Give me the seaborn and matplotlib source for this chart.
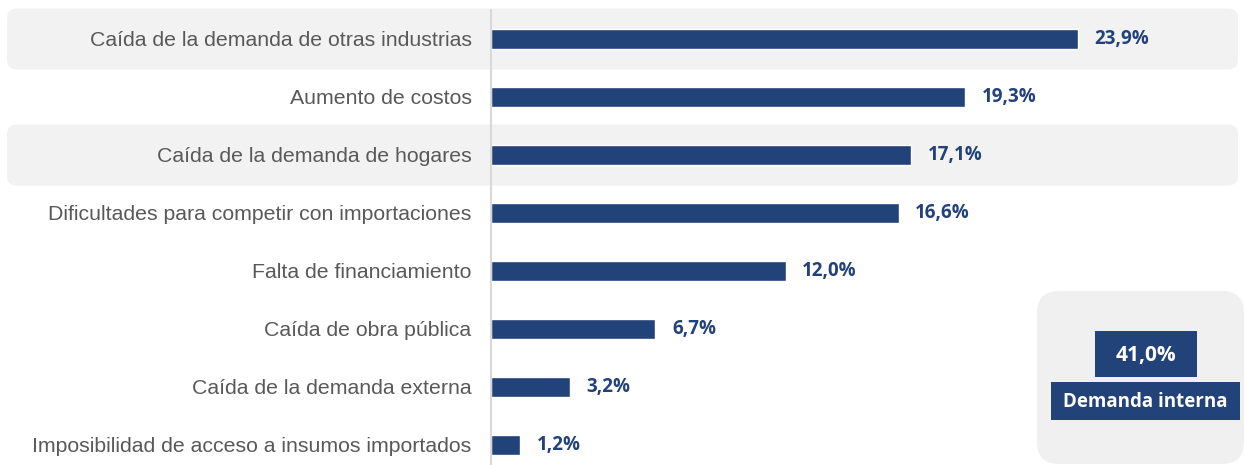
import matplotlib
matplotlib.use("Agg")
import matplotlib.pyplot as plt
import seaborn as sns
import pandas as pd
from matplotlib.patches import FancyBboxPatch, Rectangle

# data
categories = [
    "Caída de la demanda de otras industrias",
    "Aumento de costos",
    "Caída de la demanda de hogares",
    "Dificultades para competir con importaciones",
    "Falta de financiamiento",
    "Caída de obra pública",
    "Caída de la demanda externa",
    "Imposibilidad de acceso a insumos importados",
]
values = [23.9, 19.3, 17.1, 16.6, 12.0, 6.7, 3.2, 1.2]
highlight = [0, 2]  # rows that make up "Demanda interna"

NAVY = "#22427A"
GRAY_TXT = "#595959"
BAND = "#F2F2F2"

sns.set_theme(style="white")

W, H = 1246, 465
fig = plt.figure(figsize=(W / 100, H / 100), dpi=100)

# background layer in pixel units for rounded bands / side box
bg = fig.add_axes([0, 0, 1, 1], zorder=0)
bg.set_xlim(0, W)
bg.set_ylim(H, 0)
bg.axis("off")

ax = fig.add_axes([491 / W, 0, 1 - 491 / W, 1], zorder=1)
ax.patch.set_alpha(0)

df = pd.DataFrame({"cat": categories, "val": values})
sns.barplot(data=df, x="val", y="cat", orient="h", color=NAVY,
            width=0.345, saturation=1, ax=ax)

ax.set_xlim(0, (W - 491) / 24.55)
ax.set_ylim(7.345, -0.672)
ax.set_xlabel("")
ax.set_ylabel("")
ax.set_xticks([])
for s in ["top", "right", "bottom"]:
    ax.spines[s].set_visible(False)
ax.spines["left"].set_color("#D9D9D9")
ax.spines["left"].set_linewidth(1.5)
ax.spines["left"].set_bounds(7.345, -0.5)
ax.tick_params(axis="y", length=0, pad=14, labelsize=15.3, labelcolor=GRAY_TXT)
for lbl in ax.get_yticklabels():
    lbl.set_fontfamily("Liberation Sans")

labels = [f"{v:.1f}%".replace(".", ",") for v in values]
ax.bar_label(ax.containers[0], labels=labels, padding=12, color=NAVY,
             fontsize=13.5, fontweight="bold", fontfamily="Open Sans")

# highlighted row bands
fig.canvas.draw()
for i in highlight:
    yc = H - ax.transData.transform((0, i))[1]
    half = 30.5
    bg.add_patch(FancyBboxPatch((7 + 10, yc - half + 10), 1231 - 20, 2 * half - 20,
                                boxstyle="round,pad=10", fc=BAND, ec="none"))

# side box with total
total = sum(values[i] for i in highlight)
bg.add_patch(FancyBboxPatch((1037 + 22, 291 + 22), 207 - 44, 173 - 44,
                            boxstyle="round,pad=22", fc="#F0F0F0", ec="none"))
bg.add_patch(Rectangle((1095, 331), 102, 46, fc=NAVY, ec="none"))
bg.add_patch(Rectangle((1051, 382), 189, 38, fc=NAVY, ec="none"))
bg.text(1146, 355, f"{total:.1f}%".replace(".", ","), color="white", ha="center",
        va="center", fontsize=15, fontweight="bold", fontfamily="Open Sans")
bg.text(1145.5, 402, "Demanda interna", color="white", ha="center",
        va="center", fontsize=13.5, fontweight="bold", fontfamily="Open Sans")

fig.savefig("out.png", dpi=100)
